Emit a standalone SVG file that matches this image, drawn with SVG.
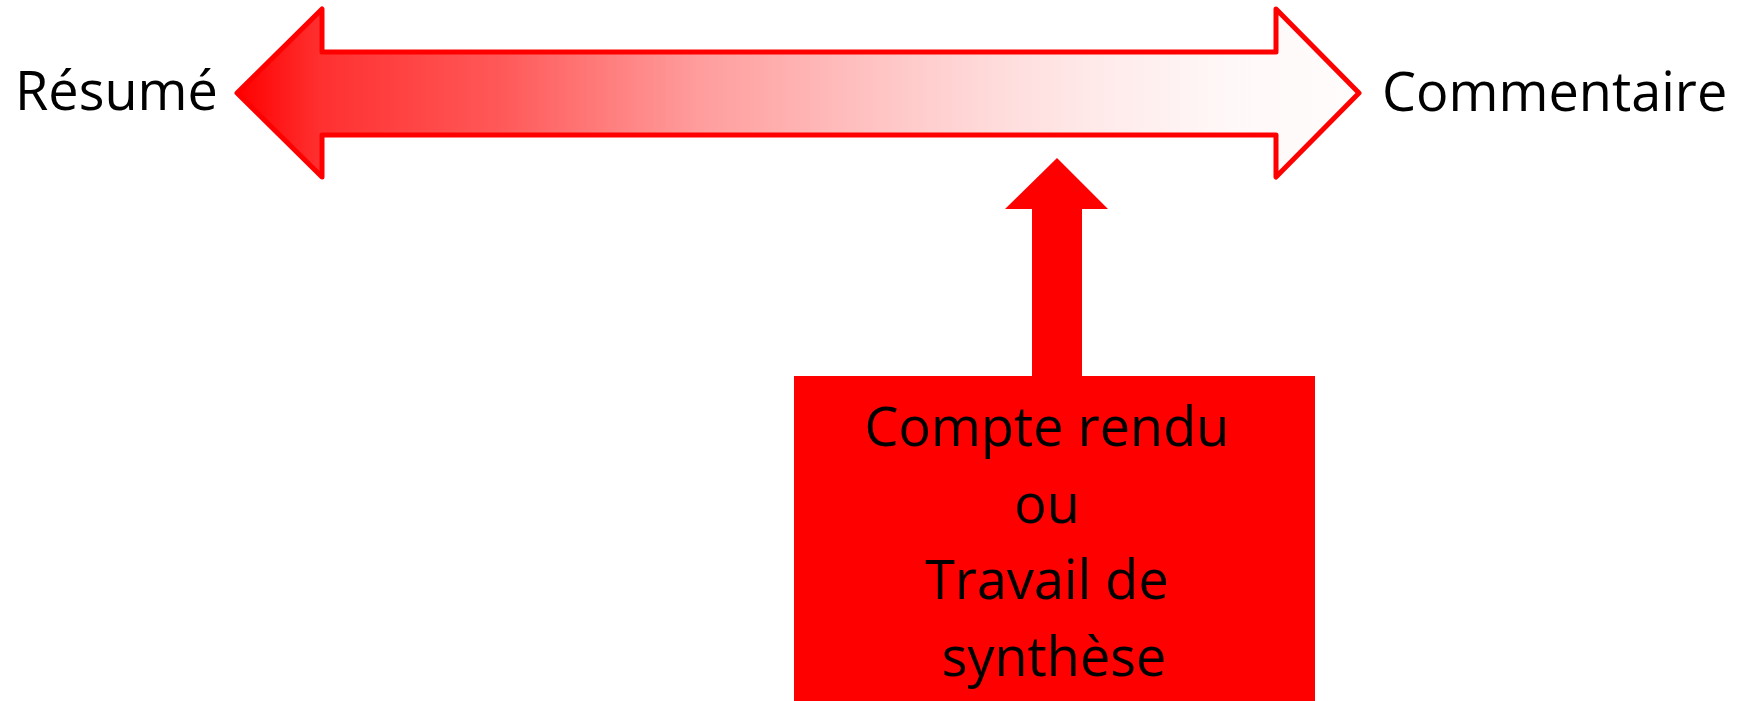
<svg xmlns="http://www.w3.org/2000/svg" width="1754" height="701" viewBox="0 0 1754 701">
  <style>
    .lbl { font-family: "Open Sans", "Liberation Sans", sans-serif; font-size: 54px; fill: #000000; }
    .box { fill: #FF0000; }
  </style>
  <defs>
    <linearGradient id="grad" gradientUnits="userSpaceOnUse" x1="237" y1="0" x2="1359" y2="0">
      <stop offset="0" stop-color="#FF0000"/>
      <stop offset="0.074" stop-color="#FF3030"/>
      <stop offset="0.234" stop-color="#FF5858"/>
      <stop offset="0.41" stop-color="#FF9C9C"/>
      <stop offset="0.59" stop-color="#FFC8C8"/>
      <stop offset="0.68" stop-color="#FFDCDC"/>
      <stop offset="0.77" stop-color="#FFEAEA"/>
      <stop offset="0.885" stop-color="#FFF8F8"/>
      <stop offset="1" stop-color="#FFFCFC"/>
    </linearGradient>
  </defs>
  <rect width="1754" height="701" fill="#FFFFFF"/>
  <g id="resume">
    <text class="lbl" x="15" y="110">Résumé</text>
  </g>
  <g id="commentaire">
    <text class="lbl" x="1382" y="111">Commentaire</text>
  </g>
  <g id="connectors">
    <path d="M237,93 L322,9 L322,52 L1276,52 L1276,9 L1359,93 L1276,177 L1276,135 L322,135 L322,177 Z" fill="url(#grad)" stroke="#FF0000" stroke-width="5" stroke-linejoin="round"/>
    <path d="M1057,158 L1108,209 L1082,209 L1082,376 L1032,376 L1032,209 L1005,209 Z" fill="#FF0000"/>
  </g>
  <g id="compte-rendu">
    <rect class="box" x="794" y="376" width="521" height="330"/>
    <text class="lbl" text-anchor="middle">
      <tspan x="1054" y="446">Compte rendu</tspan>
      <tspan x="1054" y="523">ou</tspan>
      <tspan x="1054" y="599">Travail de</tspan>
      <tspan x="1054" y="676">synthèse</tspan>
    </text>
  </g>
</svg>
